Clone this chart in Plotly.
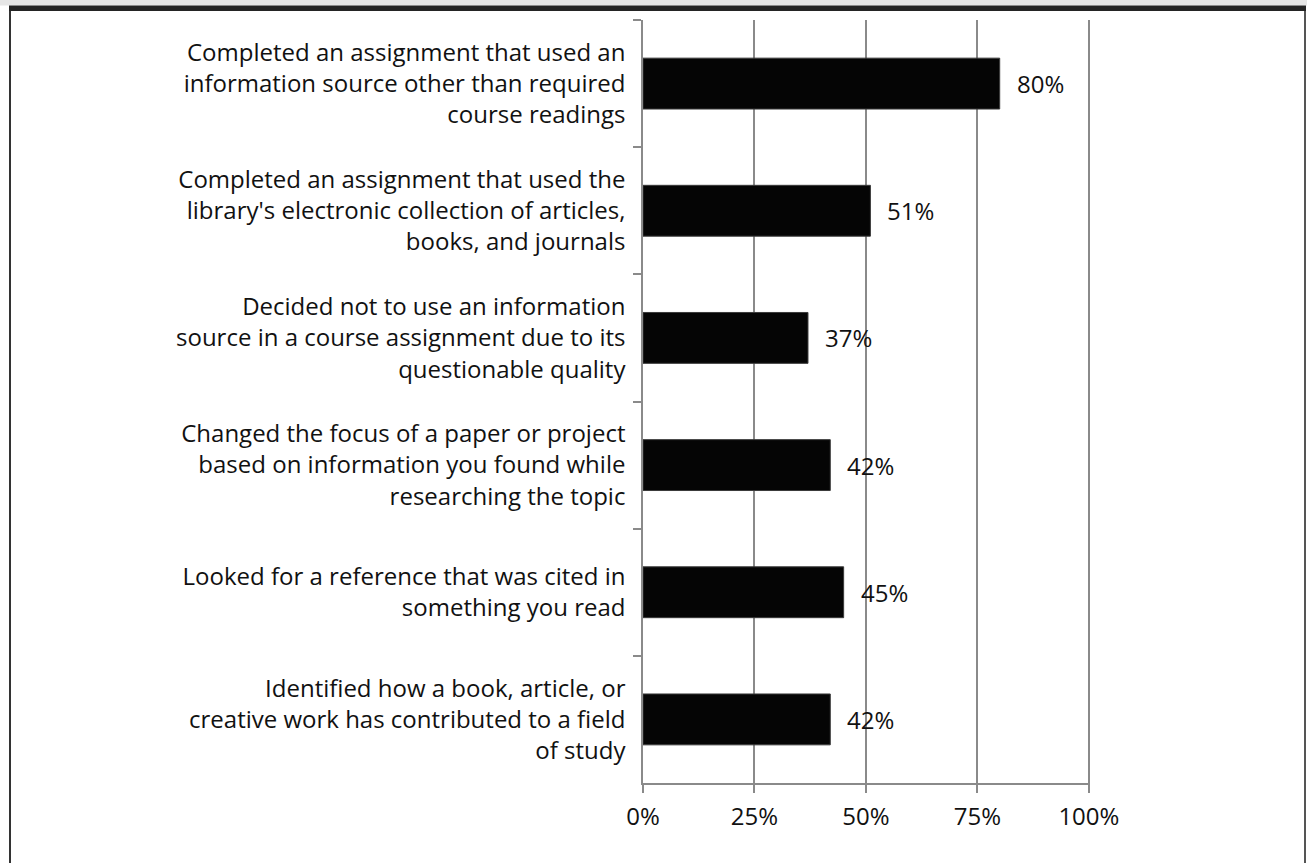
import plotly.graph_objects as go

categories = [
    "Completed an assignment that used an<br>information source other than required<br>course readings",
    "Completed an assignment that used the<br>library's electronic collection of articles,<br>books, and journals",
    "Decided not to use an information<br>source in a course assignment due to its<br>questionable quality",
    "Changed the focus of a paper or project<br>based on information you found while<br>researching the topic",
    "Looked for a reference that was cited in<br>something you read",
    "Identified how a book, article, or<br>creative work has contributed to a field<br>of study",
]
values = [80, 51, 37, 42, 45, 42]
value_labels = ["80%", "51%", "37%", "42%", "45%", "42%"]
tick_vals = [0, 25, 50, 75, 100]
tick_text = ["0%", "25%", "50%", "75%", "100%"]
title_text = "Student Engagement in Information Literacy Activities"

W, H = 1307, 863
L, R, T, B = 643, 217, 20, 80
PW, PH = W - L - R, H - T - B


def px(p):
    return (p - L) / PW


def py(p):
    return (H - B - p) / PH


FONT = "Open Sans"
FS = 24
GRID = "#8a8a8a"

fig = go.Figure()
fig.add_trace(go.Bar(
    x=values, y=categories, orientation="h",
    marker=dict(color="#050505", line=dict(color="#3a3a3a", width=1)),
    width=0.4, hoverinfo="skip",
))

annotations = []
for c, v, t in zip(categories, values, value_labels):
    annotations.append(dict(x=v, y=c, xref="x", yref="y", text=t, showarrow=False,
                            xanchor="left", yanchor="middle", xshift=15,
                            font=dict(family=FONT, size=FS, color="#111111")))

annotations.append(dict(x=px(395), y=py(4), xref="paper", yref="paper", text="<b>" + title_text + "</b>",
                        showarrow=False, xanchor="left", yanchor="bottom",
                        font=dict(family=FONT, size=26, color="#1a1a1a")))

shapes = [
    dict(type="rect", xref="paper", yref="paper", x0=px(0), x1=px(W), y0=py(0), y1=py(5.5),
         fillcolor="#e6e6e6", line=dict(width=0), layer="below"),
    dict(type="rect", xref="paper", yref="paper", x0=px(9), x1=px(1306), y0=py(5.5), y1=py(11),
         fillcolor="#242424", line=dict(width=0), layer="below"),
    dict(type="line", xref="paper", yref="paper", x0=px(10), x1=px(10), y0=py(11), y1=py(H + 5),
         line=dict(color="#333333", width=2)),
    dict(type="line", xref="paper", yref="paper", x0=px(1305), x1=px(1305), y0=py(11), y1=py(H + 5),
         line=dict(color="#555555", width=2)),
]

fig.update_layout(
    width=W, height=H,
    margin=dict(l=L, r=R, t=T, b=B, pad=0),
    paper_bgcolor="white", plot_bgcolor="white",
    showlegend=False,
    font=dict(family=FONT, size=FS, color="#111111"),
    annotations=annotations,
    shapes=shapes,
    bargap=0.6,
)
fig.update_xaxes(
    range=[0, 100.25], tickvals=tick_vals, ticktext=tick_text,
    showgrid=True, gridcolor=GRID, gridwidth=1.5,
    showline=True, linecolor=GRID, linewidth=1.5,
    ticks="outside", ticklen=8, tickcolor=GRID, tickwidth=1.5,
    zeroline=False, ticklabelstandoff=3,
    tickfont=dict(family=FONT, size=FS, color="#111111"),
)
fig.update_yaxes(
    autorange="reversed", type="category", tickson="boundaries",
    showline=True, linecolor=GRID, linewidth=1.5,
    ticks="outside", ticklen=8, tickcolor=GRID, tickwidth=1.5,
    showgrid=False, ticklabelstandoff=11,
    tickfont=dict(family=FONT, size=FS, color="#111111"),
)

fig.write_html("out.html")
